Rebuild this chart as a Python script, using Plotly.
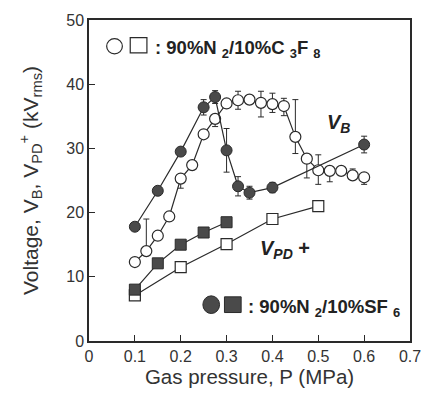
import plotly.graph_objects as go

# ---- data ----
p_c3f8_vb = [0.1, 0.125, 0.15, 0.175, 0.2, 0.225, 0.25, 0.275, 0.3, 0.325, 0.35,
             0.375, 0.4, 0.425, 0.45, 0.475, 0.5, 0.525, 0.55, 0.575, 0.6]
v_c3f8_vb = [12.3, 14.0, 16.4, 19.4, 25.3, 27.4, 32.2, 34.6, 37.0, 37.5, 37.6,
             37.1, 36.9, 36.6, 31.8, 28.4, 26.6, 26.5, 26.5, 25.8, 25.5]
e_c3f8_vb_plus = [0, 5.0, 0, 0, 0, 0, 0, 0, 0, 1.4, 0,
                  1.8, 1.7, 1.2, 5.8, 0, 2.4, 0, 0, 1.0, 0]
e_c3f8_vb_minus = [0, 0, 0, 0, 1.5, 0, 0, 1.2, 0, 1.4, 0,
                   2.2, 1.3, 1.5, 2.6, 3.0, 2.2, 1.7, 0, 0, 1.1]

p_sf6_vb = [0.1, 0.15, 0.2, 0.25, 0.275, 0.3, 0.325, 0.35, 0.4, 0.6]
v_sf6_vb = [17.8, 23.4, 29.5, 36.4, 38.0, 29.7, 24.1, 23.1, 23.9, 30.6]
e_sf6_vb = [0, 0, 0, 1.2, 1.0, 3.4, 1.5, 1.0, 0.8, 1.3]

p_c3f8_vpd = [0.1, 0.2, 0.3, 0.4, 0.5]
v_c3f8_vpd = [7.1, 11.5, 15.1, 19.0, 21.0]

p_sf6_vpd = [0.1, 0.15, 0.2, 0.25, 0.3]
v_sf6_vpd = [8.0, 12.1, 15.0, 16.9, 18.5]
e_sf6_vpd = [0, 0, 0, 0, 0.7]

x_ticks = [0, 0.1, 0.2, 0.3, 0.4, 0.5, 0.6, 0.7]
x_tick_labels = ["0", "0.1", "0.2", "0.3", "0.4", "0.5", "0.6", "0.7"]
y_ticks = [0, 10, 20, 30, 40, 50]

# ---- styles ----
FONT = "Arial, Liberation Sans, sans-serif"
LINE = "#2a2a2a"
FILL = "#4a4a4a"
TXT = "#333"

fig = go.Figure()

errstyle = dict(color=LINE, thickness=1, width=3)

fig.add_trace(go.Scatter(
    x=p_c3f8_vb, y=v_c3f8_vb, mode="lines+markers",
    line=dict(color=LINE, width=1.2),
    marker=dict(symbol="circle", size=11, color="white", line=dict(color=LINE, width=1.2)),
    error_y=dict(type="data", symmetric=False, array=e_c3f8_vb_plus,
                 arrayminus=e_c3f8_vb_minus, **errstyle),
    showlegend=False))

fig.add_trace(go.Scatter(
    x=p_sf6_vb, y=v_sf6_vb, mode="lines+markers",
    line=dict(color=LINE, width=1.2),
    marker=dict(symbol="circle", size=11, color=FILL, line=dict(color=LINE, width=1)),
    error_y=dict(type="data", array=e_sf6_vb, **errstyle),
    showlegend=False))

fig.add_trace(go.Scatter(
    x=p_c3f8_vpd, y=v_c3f8_vpd, mode="lines+markers",
    line=dict(color=LINE, width=1.2),
    marker=dict(symbol="square", size=11, color="white", line=dict(color=LINE, width=1.2)),
    showlegend=False))

fig.add_trace(go.Scatter(
    x=p_sf6_vpd, y=v_sf6_vpd, mode="lines+markers",
    line=dict(color=LINE, width=1.2),
    marker=dict(symbol="square", size=11, color=FILL, line=dict(color=LINE, width=1)),
    error_y=dict(type="data", array=e_sf6_vpd, **errstyle),
    showlegend=False))

# legend symbols (paper coords), plot area: 327x327 px
W = 327.0
def px(x):
    return (x - 89) / W
def py(y):
    return (341 - y) / W

shapes = [
    dict(type="circle", xref="paper", yref="paper", x0=px(107), x1=px(123), y0=py(48.5), y1=py(33),
         line=dict(color=LINE, width=1.2), fillcolor="white"),
    dict(type="rect", xref="paper", yref="paper", x0=px(131), x1=px(148), y0=py(47.5), y1=py(32),
         line=dict(color=LINE, width=1.2), fillcolor="white"),
    dict(type="circle", xref="paper", yref="paper", x0=px(205), x1=px(222), y0=py(313), y1=py(295),
         line=dict(color=LINE, width=1), fillcolor=FILL),
    dict(type="rect", xref="paper", yref="paper", x0=px(227), x1=px(244), y0=py(312), y1=py(296),
         line=dict(color=LINE, width=1), fillcolor=FILL),
]

annotations = [
    dict(xref="paper", yref="paper", x=px(154), y=py(44), xanchor="left", yanchor="middle",
         text="<b>: 90%N <sub>2</sub>/10%C <sub>3</sub>F <sub>8</sub></b>", showarrow=False,
         font=dict(family=FONT, size=18.5, color="#222")),
    dict(xref="paper", yref="paper", x=px(249), y=py(307), xanchor="left", yanchor="middle",
         text="<b>: 90%N <sub>2</sub>/10%SF <sub>6</sub></b>", showarrow=False,
         font=dict(family=FONT, size=18.5, color="#222")),
    dict(xref="paper", yref="paper", x=px(329), y=py(119), xanchor="left", yanchor="middle",
         text="<b><i>V<sub>B</sub></i></b>", showarrow=False,
         font=dict(family=FONT, size=20, color="#222")),
    dict(xref="paper", yref="paper", x=px(261), y=py(248), xanchor="left", yanchor="middle",
         text="<b><i>V<sub>PD</sub></i> +</b>", showarrow=False,
         font=dict(family=FONT, size=20, color="#222")),
]

fig.update_layout(
    width=433, height=395,
    margin=dict(l=89, r=17, t=14, b=54),
    paper_bgcolor="white", plot_bgcolor="white",
    font=dict(family=FONT, size=16, color=TXT),
    shapes=shapes, annotations=annotations,
    xaxis=dict(range=[0, 0.7], tickvals=x_ticks, ticktext=x_tick_labels,
               ticks="inside", ticklen=6, tickcolor=LINE, tickwidth=1.2,
               showline=True, linecolor=LINE, linewidth=1.5, mirror=True,
               showgrid=False, zeroline=False,
               title=dict(text="Gas pressure, P (MPa)", font=dict(size=20.5, color=TXT), standoff=3),
               tickfont=dict(size=16, color=TXT)),
    yaxis=dict(range=[0, 50], tickvals=y_ticks,
               ticks="inside", ticklen=6, tickcolor=LINE, tickwidth=1.2,
               showline=True, linecolor=LINE, linewidth=1.5, mirror=True,
               showgrid=False, zeroline=False,
               title=dict(text="Voltage, V<sub>B</sub>, V<sub>PD</sub><sup>+</sup> (kV<sub>rms</sub>)",
                          font=dict(size=21, color=TXT), standoff=22),
               tickfont=dict(size=16, color=TXT)),
)

fig.write_html("out.html")
